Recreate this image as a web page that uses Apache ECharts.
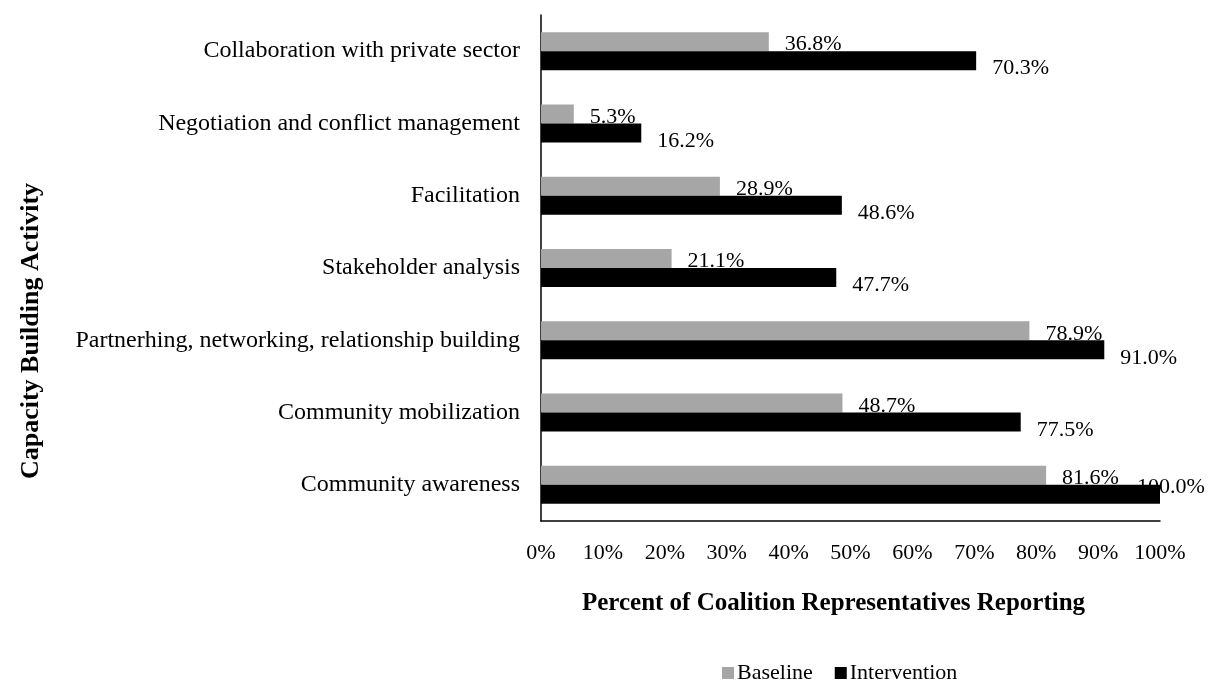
<!DOCTYPE html>
<html>
<head>
<meta charset="utf-8">
<script src="https://cdn.jsdelivr.net/npm/echarts@6/dist/echarts.min.js"></script>
<style>
  html, body { margin: 0; padding: 0; background: #fff; }
  #chart { width: 1210px; height: 684px; }
</style>
</head>
<body>
<div id="chart"></div>
<script>
// Capacity building activities, listed bottom to top
const categories = [
  'Community awareness',
  'Community mobilization',
  'Partnerhing, networking, relationship building',
  'Stakeholder analysis',
  'Facilitation',
  'Negotiation and conflict management',
  'Collaboration with private sector'
];
// Percent of coalition representatives reporting each activity
const baseline = [81.6, 48.7, 78.9, 21.1, 28.9, 5.3, 36.8];
const intervention = [100.0, 77.5, 91.0, 47.7, 48.6, 16.2, 70.3];
const seriesNames = ['Baseline', 'Intervention'];
const xTitle = 'Percent of Coalition Representatives Reporting';
const yTitle = 'Capacity Building Activity';

const FONT = '"Liberation Serif", "Times New Roman", serif';
const pct = p => p.value.toFixed(1) + '%';

// A label at the full-scale end would run off the canvas, so pull it back over the bar
const withFit = (vals, dy) => vals.map(v => v >= 100
  ? { value: v, label: { offset: [-39, dy - 15] } }
  : v);

const chart = echarts.init(document.getElementById('chart'));
chart.setOption({
  animation: false,
  textStyle: { fontFamily: FONT, color: '#000' },
  grid: { left: 541, right: 50, top: 15, bottom: 163, containLabel: false },
  legend: {
    data: seriesNames,
    top: 662,
    left: 722,
    padding: 0,
    itemWidth: 12,
    itemHeight: 12,
    itemGap: 22,
    icon: 'rect',
    textStyle: { fontFamily: FONT, fontSize: 22, color: '#000', padding: [0, 0, 0, -2] }
  },
  graphic: [{
    type: 'text',
    x: 31,
    y: 331,
    rotation: Math.PI / 2,
    style: {
      text: yTitle,
      font: 'bold 26px ' + FONT,
      fill: '#000',
      align: 'center',
      verticalAlign: 'middle'
    }
  }],
  xAxis: {
    type: 'value',
    min: 0,
    max: 100,
    interval: 10,
    name: xTitle,
    nameLocation: 'middle',
    nameGap: 70,
    nameTextStyle: {
      fontFamily: FONT, fontSize: 25, fontWeight: 'bold', color: '#000',
      padding: [0, 34, 0, 0]
    },
    axisLine: { show: true, lineStyle: { color: '#000', width: 1.5 } },
    axisTick: { show: false },
    splitLine: { show: false },
    axisLabel: {
      formatter: '{value}%',
      fontFamily: FONT, fontSize: 22, color: '#000', margin: 21
    }
  },
  yAxis: {
    type: 'category',
    data: categories,
    axisLine: { show: true, lineStyle: { color: '#000', width: 1.5 } },
    axisTick: { show: false },
    axisLabel: { fontFamily: FONT, fontSize: 24, color: '#000', margin: 21 }
  },
  series: [
    {
      name: seriesNames[0],
      type: 'bar',
      data: withFit(baseline, 3),
      barWidth: 19,
      barGap: '0%',
      itemStyle: { color: '#a6a6a6' },
      label: {
        show: true, position: 'right', distance: 16, offset: [0, 3],
        formatter: pct,
        fontFamily: FONT, fontSize: 22, color: '#000'
      }
    },
    {
      name: seriesNames[1],
      type: 'bar',
      data: withFit(intervention, 8),
      barWidth: 19,
      barGap: '0%',
      itemStyle: { color: '#000' },
      label: {
        show: true, position: 'right', distance: 16, offset: [0, 8],
        formatter: pct,
        fontFamily: FONT, fontSize: 22, color: '#000'
      }
    }
  ]
});
</script>
</body>
</html>
